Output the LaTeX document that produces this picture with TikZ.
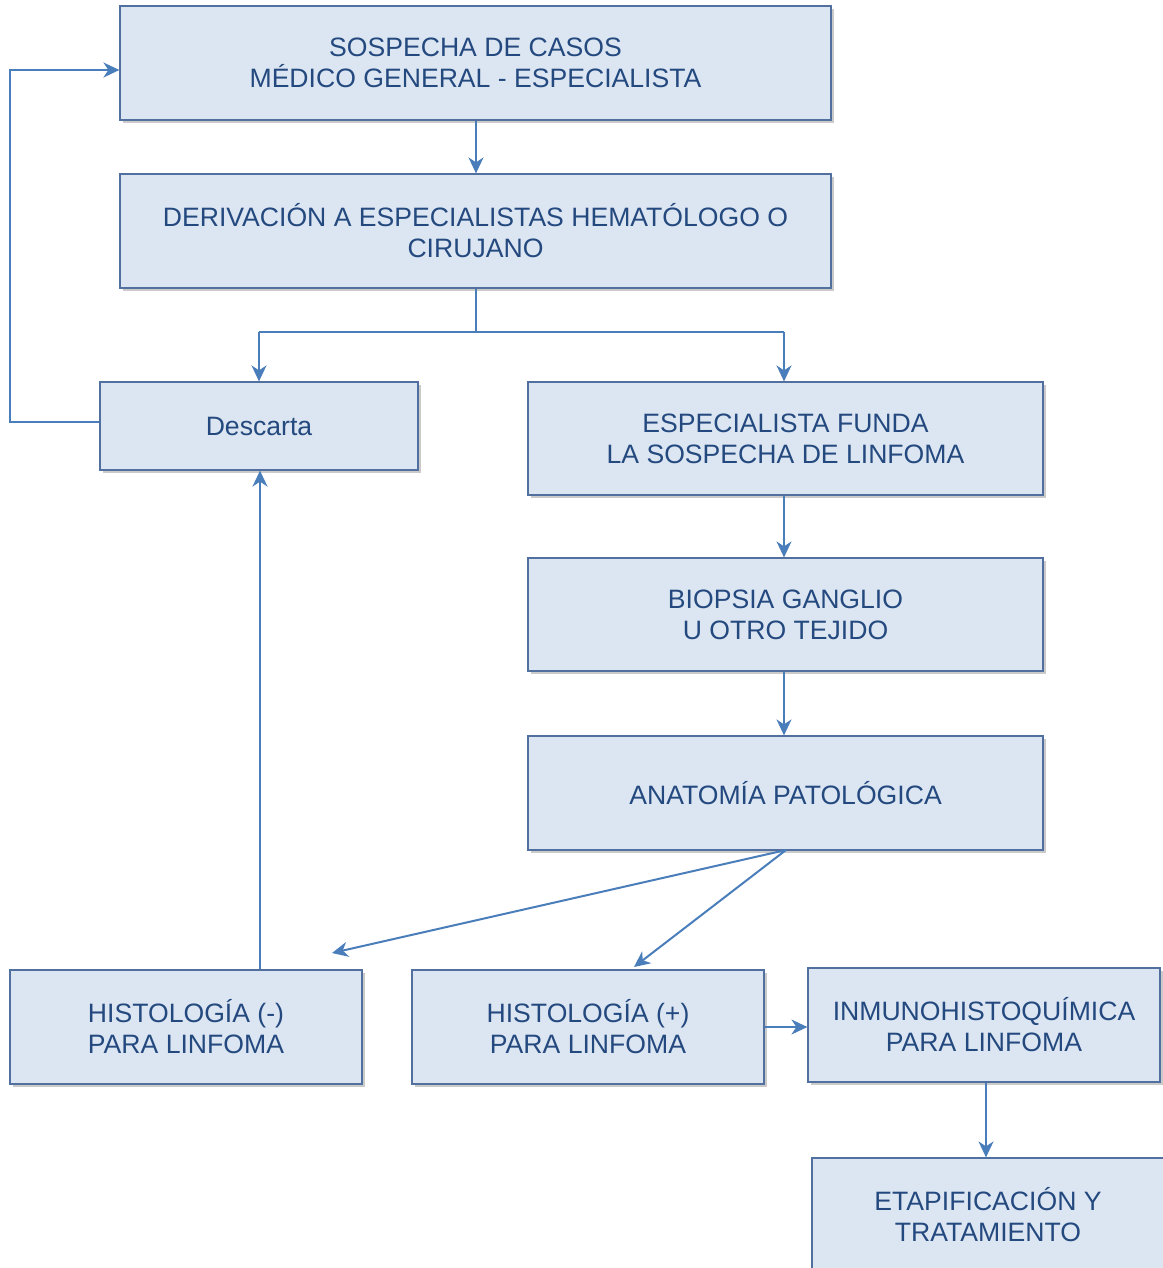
\documentclass[tikz,border=0pt]{standalone}
\usepackage{fontspec}
\setmainfont{Liberation Sans}
\usetikzlibrary{arrows.meta,shadows}
\definecolor{boxfill}{HTML}{DCE6F2}
\definecolor{boxline}{HTML}{52709F}
\definecolor{txt}{HTML}{24497F}
\definecolor{arr}{HTML}{4A7EBB}
\tikzset{
  box/.style={draw=boxline, line width=1.2pt, fill=boxfill, text=txt, align=center,
    font=\fontsize{26.6}{31}\selectfont, inner sep=0pt,
    drop shadow={shadow xshift=3pt, shadow yshift=-3pt, opacity=0.35, fill=black!60}},
  conn/.style={draw=arr, line width=2pt},
  arrow/.style={conn, -{Stealth[length=16pt,width=15pt,inset=5pt]}}
}
\begin{document}
\begin{tikzpicture}[x=1pt,y=-1pt]
\useasboundingbox (0,0) rectangle (1162,1268);
\node[box, minimum width=711pt, minimum height=114pt] (sos) at (475.5,63) {SOSPECHA DE CASOS\\MÉDICO GENERAL - ESPECIALISTA};
\node[box, minimum width=711pt, minimum height=114pt] (der) at (475.5,231) {DERIVACIÓN A ESPECIALISTAS HEMATÓLOGO O\\CIRUJANO};
\node[box, minimum width=318pt, minimum height=88pt] (des) at (259,426) {Descarta};
\node[box, minimum width=515pt, minimum height=113pt] (esp) at (785.5,438.5) {ESPECIALISTA FUNDA\\LA SOSPECHA DE LINFOMA};
\node[box, minimum width=515pt, minimum height=113pt] (bio) at (785.5,614.5) {BIOPSIA GANGLIO\\U OTRO TEJIDO};
\node[box, minimum width=515pt, minimum height=114pt] (ana) at (785.5,793) {ANATOMÍA PATOLÓGICA};
\node[box, minimum width=352pt, minimum height=114pt] (hneg) at (186,1027) {HISTOLOGÍA (-)\\PARA LINFOMA};
\node[box, minimum width=352pt, minimum height=114pt] (hpos) at (588,1027) {HISTOLOGÍA (+)\\PARA LINFOMA};
\node[box, minimum width=352pt, minimum height=114pt] (inm) at (984,1025) {INMUNOHISTOQUÍMICA\\PARA LINFOMA};
\node[box, minimum width=352pt, minimum height=114pt] (eta) at (988,1215) {ETAPIFICACIÓN Y\\TRATAMIENTO};

\coordinate (split) at (476,332);
\coordinate (hl) at (259,332);
\coordinate (hr) at (784,332);
\coordinate (lb) at (10,422);
\coordinate (lt) at (10,70);

\draw[arrow] (sos.south -| 476,0) -- (der.north -| 476,0);
\draw[conn] (der.south -| 476,0) -- (split);
\draw[conn] (hl) -- (hr);
\draw[arrow] (hl) -- (des.north -| hl);
\draw[arrow] (hr) -- (esp.north -| hr);
\draw[arrow] (des.west |- lb) -- (lb) -- (lt) -- (sos.west |- lt);
\draw[arrow] (esp.south -| 784,0) -- (bio.north -| 784,0);
\draw[arrow] (bio.south -| 784,0) -- (ana.north -| 784,0);
\coordinate (anab) at (786,850);
\coordinate (hnegt) at (332,953);
\coordinate (hpost) at (634,967);
\draw[arrow] (anab) -- (hnegt);
\draw[arrow] (anab) -- (hpost);
\draw[arrow] (hneg.north -| 260,0) -- (des.south -| 260,0);
\draw[arrow] (hpos.east |- 0,1027) -- (inm.west |- 0,1027);
\draw[arrow] (inm.south -| 986,0) -- (eta.north -| 986,0);
\end{tikzpicture}
\end{document}
